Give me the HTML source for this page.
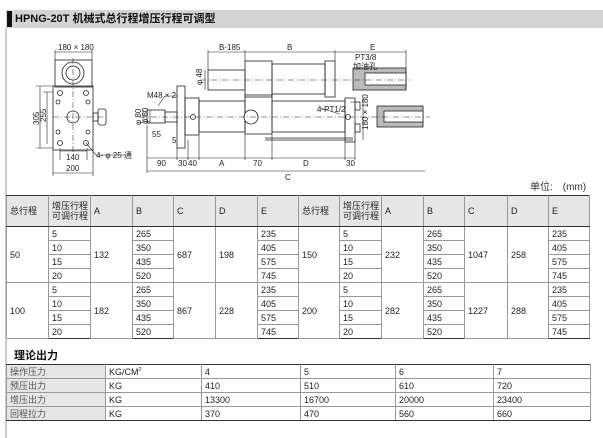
<!DOCTYPE html>
<html><head><meta charset="utf-8"><style>
*{margin:0;padding:0;box-sizing:border-box}
body{width:603px;height:438px;background:#fff;position:relative;overflow:hidden;font-family:"Liberation Sans","Noto Sans CJK SC",sans-serif;color:#222}
.abs{position:absolute}
table{border-collapse:collapse;table-layout:fixed;position:absolute;font-size:9px}
td{padding:0 0 0 3px;overflow:hidden;white-space:nowrap;border:1px solid #999;vertical-align:middle}
#t1 tr.h td{background:#e6e6e6;height:31px;border-top:1.5px solid #333;border-bottom:1.5px solid #333;line-height:10px}
#t1 td{height:14px}
#t1 tr.g td{border-top:1.5px solid #333}
#t1 tr.last td{border-bottom:1.5px solid #333}
#t2 td{height:14px;border-left:1px solid #999;border-right:1px solid #999}
#t2 td.f{background:#e6e6e6;color:#555}
#t2 tr:first-child td{border-top:1.5px solid #333}
#t2 tr:last-child td{border-bottom:1.5px solid #333}
</style></head><body>
<div class="abs" style="left:6px;top:10px;width:597px;height:18px;background:#d4d4d4"></div>
<div class="abs" style="left:7px;top:11px;width:5px;height:16px;background:#111"></div>
<div class="abs" style="left:15px;top:11px;font-size:11px;font-weight:bold;line-height:16px;color:#111">HPNG-20T 机械式总行程增压行程可调型</div>
<div class="abs" style="left:5px;top:28px;width:2px;height:410px;background:#ccc"></div>

<svg class="abs" style="left:0;top:0" width="603" height="190" font-family="Liberation Sans" font-size="8" fill="none" stroke="#222" stroke-width="0.8">
<rect x="55" y="60" width="37" height="27"/>
<circle cx="73" cy="73" r="11"/><circle cx="73" cy="73" r="7"/>
<rect x="53" y="86" width="40" height="64"/>
<circle cx="73" cy="117" r="6"/>
<circle cx="60" cy="93" r="2.5"/><circle cx="86" cy="93" r="2.5"/><circle cx="60" cy="143" r="2.5"/><circle cx="86" cy="143" r="2.5"/>
<circle cx="58" cy="102" r="2"/><circle cx="88" cy="102" r="2"/><circle cx="58" cy="132" r="2"/><circle cx="88" cy="132" r="2"/>
<rect x="93" y="113" width="5" height="8"/><rect x="98" y="109" width="8" height="16" rx="2"/>
<path d="M53 117H105M73 58V152" stroke-dasharray="6 2 1 2" stroke-width="0.5"/>
<path d="M55 52H92M55 50V60M92 50V60M40 86V148M47 92V144M36 86H53M43 92H53M36 148H53M60 151H87M60 148V160M87 148V160M53 173H93M53 150V176M93 150V176M86 143L96 155H125" stroke-width="0.6"/>
<g fill="#222" stroke="none">
<text x="58" y="50">180 × 180</text>
<text x="66" y="160">140</text>
<text x="66" y="171">200</text>
<text x="96" y="158">4- φ 25 通</text>
<text transform="translate(39,125) rotate(-90)">305</text>
<text transform="translate(46,122) rotate(-90)">255</text>
</g>
<rect x="208" y="70" width="37" height="20"/>
<rect x="245" y="61" width="27" height="36"/>
<rect x="272" y="64" width="53" height="30"/>
<rect x="325" y="61" width="10" height="36"/>
<rect x="353" y="68" width="53" height="22" fill="#bbb"/>
<rect x="365" y="73" width="41" height="12" fill="#fff"/>
<rect x="147" y="110" width="18" height="13"/>
<rect x="165" y="112" width="12" height="10"/>
<rect x="177" y="86" width="8" height="62"/>
<rect x="185" y="98" width="14" height="37"/>
<rect x="199" y="101" width="46" height="31"/>
<rect x="245" y="95" width="27" height="39"/>
<rect x="272" y="101" width="73" height="31"/>
<rect x="345" y="98" width="10" height="44"/>
<rect x="355" y="102" width="5" height="8"/><rect x="355" y="124" width="5" height="8"/>
<rect x="377" y="106" width="46" height="21" fill="#bbb"/>
<rect x="384" y="111" width="39" height="11" fill="#fff"/>
<circle cx="251" cy="117" r="7" fill="#fff"/><circle cx="193" cy="117" r="2.5"/><circle cx="348" cy="117" r="2.5"/>
<path d="M265 140H353M265 138H353" stroke-width="0.8"/>
<path d="M140 117H430M200 80H410" stroke-dasharray="6 2 1 2" stroke-width="0.5"/>
<path d="M208 52H406M208 50V70M245 50V61M335 50V61M406 50V90M147 158H355M147 171H425M147 125V173M177 148V160M188 140V160M199 135V160M245 134V160M272 134V160M345 142V160M355 142V160M205 70V90M143 110V123M150 110V123M158 106L165 96H178M340 114L320 108M350 102H357M363 98V140" stroke-width="0.6"/>
<g fill="#222" stroke="none">
<text x="219" y="50">B-185</text>
<text x="287" y="50">B</text>
<text x="370" y="50">E</text>
<text x="355" y="60">PT3/8</text>
<text x="353" y="69">加油孔</text>
<text x="147" y="98">M48 × 2</text>
<text x="152" y="137">55</text>
<text x="172" y="143">5</text>
<text x="317" y="112">4-PT1/2</text>
<text x="157" y="166">90</text><text x="178" y="166">30</text><text x="188" y="166">40</text>
<text x="219" y="166">A</text><text x="253" y="166">70</text><text x="303" y="166">D</text><text x="346" y="166">30</text>
<text x="285" y="180">C</text>
<text transform="translate(202,85) rotate(-90)">φ 48</text>
<text transform="translate(141,125) rotate(-90)">φ 80</text>
<text transform="translate(148,124) rotate(-90)">φ 60</text>
<text transform="translate(368,130) rotate(-90)">180 × 180</text>
</g>
</svg>

<div class="abs" style="left:530px;top:178px;font-size:10px;color:#333">单位:　(mm)</div>

<table id="t1" style="left:6px;top:195px;width:583px">
<colgroup><col style="width:42px"><col style="width:42px"><col style="width:42px"><col style="width:41px"><col style="width:42px"><col style="width:42px"><col style="width:41px"><col style="width:41px"><col style="width:42px"><col style="width:42px"><col style="width:41px"><col style="width:43px"><col style="width:41px"><col style="width:41px"></colgroup>
<tr class="h"><td>总行程</td><td>增压行程<br>可调行程</td><td>A</td><td>B</td><td>C</td><td>D</td><td>E</td><td>总行程</td><td>增压行程<br>可调行程</td><td>A</td><td>B</td><td>C</td><td>D</td><td>E</td></tr>
<tr><td rowspan="4">50</td><td>5</td><td rowspan="4">132</td><td>265</td><td rowspan="4">687</td><td rowspan="4">198</td><td>235</td><td rowspan="4">150</td><td>5</td><td rowspan="4">232</td><td>265</td><td rowspan="4">1047</td><td rowspan="4">258</td><td>235</td></tr>
<tr><td>10</td><td>350</td><td>405</td><td>10</td><td>350</td><td>405</td></tr>
<tr><td>15</td><td>435</td><td>575</td><td>15</td><td>435</td><td>575</td></tr>
<tr><td>20</td><td>520</td><td>745</td><td>20</td><td>520</td><td>745</td></tr>
<tr class="g"><td rowspan="4">100</td><td>5</td><td rowspan="4">182</td><td>265</td><td rowspan="4">867</td><td rowspan="4">228</td><td>235</td><td rowspan="4">200</td><td>5</td><td rowspan="4">282</td><td>265</td><td rowspan="4">1227</td><td rowspan="4">288</td><td>235</td></tr>
<tr><td>10</td><td>350</td><td>405</td><td>10</td><td>350</td><td>405</td></tr>
<tr><td>15</td><td>435</td><td>575</td><td>15</td><td>435</td><td>575</td></tr>
<tr class="last"><td>20</td><td>520</td><td>745</td><td>20</td><td>520</td><td>745</td></tr>
</table>

<div class="abs" style="left:14px;top:347px;font-size:11px;font-weight:bold;color:#111">理论出力</div>

<table id="t2" style="left:6px;top:364px;width:584px">
<colgroup><col style="width:99px"><col style="width:96px"><col style="width:99px"><col style="width:95px"><col style="width:98px"><col style="width:97px"></colgroup>
<tr><td class="f">操作压力</td><td>KG/CM<sup style="font-size:5px">2</sup></td><td>4</td><td>5</td><td>6</td><td>7</td></tr>
<tr><td class="f">预压出力</td><td>KG</td><td>410</td><td>510</td><td>610</td><td>720</td></tr>
<tr><td class="f">增压出力</td><td>KG</td><td>13300</td><td>16700</td><td>20000</td><td>23400</td></tr>
<tr><td class="f">回程拉力</td><td>KG</td><td>370</td><td>470</td><td>560</td><td>660</td></tr>
</table>
</body></html>
